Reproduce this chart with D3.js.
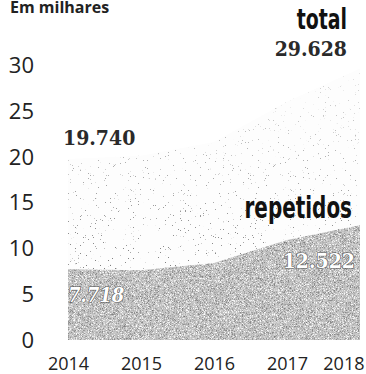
<!DOCTYPE html>
<html><head><meta charset="utf-8">
<script src="https://cdn.jsdelivr.net/npm/d3@7"></script>
<style>
html,body{margin:0;padding:0;background:#fff;}
svg{display:block;}
</style></head>
<body><svg id="c" width="366" height="374"></svg>
<script>
const years = [2014, 2015, 2016, 2017, 2018];
const totalValues = [19.740, 20.1, 21.6, 26.0, 29.628];
const repeatedValues = [7.718, 7.6, 8.4, 10.9, 12.522];
const yTickValues = [0, 5, 10, 15, 20, 25, 30];
const unitLabel = "Em milhares";
const totalName = "total";
const repeatedName = "repetidos";
const fmt = v => d3.format(".3f")(v);

const svg = d3.select("#c");
const W = 366, H = 374;
const x = d3.scaleLinear().domain([2014, 2018]).range([68, 360]);
const y = d3.scaleLinear().domain([0, 30]).range([340, 65]);

const defs = svg.append("defs");
// grain for repeated area
const g1 = defs.append("filter").attr("id", "grain").attr("x", 0).attr("y", 0).attr("width", 1).attr("height", 1)
  .attr("color-interpolation-filters", "sRGB");
g1.append("feTurbulence").attr("type", "fractalNoise").attr("baseFrequency", 1.5).attr("numOctaves", 1).attr("seed", 4).attr("result", "n");
g1.append("feColorMatrix").attr("in", "n").attr("type", "matrix")
  .attr("values", "0.9 0 0 0 0.31  0.9 0 0 0 0.31  0.9 0 0 0 0.31  0 0 0 0 1").attr("result", "g");
g1.append("feComposite").attr("in", "g").attr("in2", "SourceGraphic").attr("operator", "in");
// sparse dots for total area
const g2 = defs.append("filter").attr("id", "dots").attr("x", 0).attr("y", 0).attr("width", 1).attr("height", 1)
  .attr("color-interpolation-filters", "sRGB");
g2.append("feTurbulence").attr("type", "fractalNoise").attr("baseFrequency", 1.6).attr("numOctaves", 1).attr("seed", 9).attr("result", "n");
g2.append("feColorMatrix").attr("in", "n").attr("type", "matrix")
  .attr("values", "0 0 0 0 0.5  0 0 0 0 0.5  0 0 0 0 0.5  30 0 0 0 -21").attr("result", "d");
g2.append("feComposite").attr("in", "d").attr("in2", "SourceGraphic").attr("operator", "in");
const lg = defs.append("linearGradient").attr("id", "fade")
  .attr("gradientUnits", "userSpaceOnUse").attr("x1", 0).attr("x2", 0).attr("y1", y(30)).attr("y2", y(8));
lg.append("stop").attr("offset", 0).attr("stop-color", "#fff").attr("stop-opacity", 0.25);
lg.append("stop").attr("offset", 1).attr("stop-color", "#fff").attr("stop-opacity", 1);
defs.append("mask").attr("id", "fadeMask").attr("maskUnits", "userSpaceOnUse")
  .attr("x", 0).attr("y", 0).attr("width", W).attr("height", H)
  .append("rect").attr("width", W).attr("height", H).attr("fill", "url(#fade)");

const totalData = years.map((yr, i) => ({yr, v: totalValues[i]}));
const repData = years.map((yr, i) => ({yr, v: repeatedValues[i]}));
const area = d3.area().x(d => x(d.yr)).y0(y(0)).y1(d => y(d.v));

svg.append("path").datum(totalData).attr("d", area)
  .attr("fill", "#fdfdfd");
svg.append("path").datum(totalData).attr("d", area)
  .attr("fill", "#000").attr("filter", "url(#dots)").attr("mask", "url(#fadeMask)");
svg.append("path").datum(repData).attr("d", area)
  .attr("fill", "#000").attr("filter", "url(#grain)");

// axes
const yAxis = d3.axisLeft(y).tickValues(yTickValues).tickSize(0).tickPadding(0).tickFormat(d3.format("d"));
const ya = svg.append("g").attr("transform", "translate(34,0)").call(yAxis);
ya.select(".domain").remove();
ya.selectAll("text").attr("font-family", "Open Sans, sans-serif").attr("font-size", 22).attr("fill", "#222").attr("dy", "0.34em");

const xAxis = d3.axisBottom(x).tickValues(years).tickSize(0).tickPadding(0).tickFormat(d3.format("d"));
const xa = svg.append("g").attr("transform", "translate(0,356)").call(xAxis);
xa.select(".domain").remove();
xa.selectAll("text").attr("font-family", "Open Sans, sans-serif").attr("font-size", 18).attr("fill", "#222").attr("dy", "0.75em");
xa.selectAll("text").filter(d => d === years[years.length - 1]).attr("text-anchor", "end").attr("dx", 4);

// titles / annotations
svg.append("text").attr("x", 10).attr("y", 13).text(unitLabel)
  .attr("font-family", "Open Sans, sans-serif").attr("font-weight", 700).attr("font-size", 16).attr("fill", "#222");

const hand = "DejaVu Sans Condensed, DejaVu Sans, sans-serif";
const slab = "DejaVu Serif Condensed, DejaVu Serif, serif";
const last = years.length - 1;
svg.append("text").attr("transform", `translate(${x(years[last]) - 13},29) scale(0.75,1)`).attr("text-anchor", "end")
  .text(totalName).attr("font-family", hand).attr("font-weight", 700).attr("font-size", 28).attr("fill", "#111");
svg.append("text").attr("x", x(years[last]) - 13).attr("y", 56).attr("text-anchor", "end")
  .text(fmt(totalValues[last])).attr("font-family", slab).attr("font-weight", 700).attr("font-size", 21).attr("fill", "#2a2a2a");
svg.append("text").attr("x", x(years[0]) - 5).attr("y", y(totalValues[0]) - 14)
  .text(fmt(totalValues[0])).attr("font-family", slab).attr("font-weight", 700).attr("font-size", 21).attr("fill", "#2a2a2a");
svg.append("text").attr("transform", `translate(${x(years[last]) - 8},218) scale(0.74,1)`).attr("text-anchor", "end")
  .text(repeatedName).attr("font-family", hand).attr("font-weight", 700).attr("font-size", 30).attr("fill", "#111");
svg.append("text").attr("x", x(years[last]) - 5).attr("y", y(repeatedValues[last]) + 43).attr("text-anchor", "end")
  .text(fmt(repeatedValues[last])).attr("font-family", slab).attr("font-weight", 700).attr("font-size", 21).attr("fill", "#fff")
  .attr("stroke", "#555").attr("stroke-width", 1.2).attr("paint-order", "stroke");
svg.append("text").attr("x", x(years[0])).attr("y", y(repeatedValues[0]) + 33)
  .text(fmt(repeatedValues[0])).attr("font-family", slab).attr("font-weight", 700).attr("font-style", "italic").attr("font-size", 20).attr("fill", "#fff")
  .attr("stroke", "#555").attr("stroke-width", 1.2).attr("paint-order", "stroke");
</script></body></html>
